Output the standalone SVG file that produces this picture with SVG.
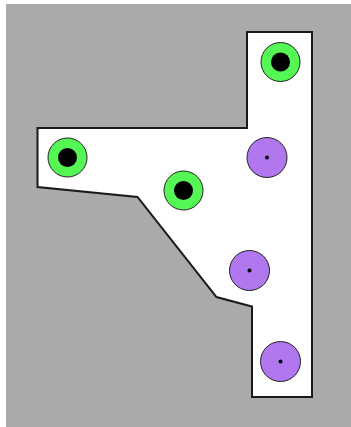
<svg xmlns="http://www.w3.org/2000/svg" width="351" height="427" viewBox="0 0 351 427">
<style>
.bg{fill:#aaaaaa}
.plate{fill:#ffffff;stroke:#1a1a1a;stroke-width:2}
.green{fill:#55f755;stroke:#222;stroke-width:1}
.hole{fill:#000}
.purple{fill:#b077ef;stroke:#222;stroke-width:1}
.dot{fill:#000}
</style>
<rect class="bg" x="6" y="4" width="345" height="423"/>
<polygon id="plate" class="plate" points="247,32 312,32 312,397 252,397 252,306.5 216.5,297 137.5,197 37.5,187 37.5,128 247,128"/>
<g id="g1"><circle class="green" cx="280.5" cy="62" r="19.5"/><circle class="hole" cx="280.5" cy="62" r="9.5"/></g>
<g id="g2"><circle class="green" cx="67.5" cy="157.5" r="19.5"/><circle class="hole" cx="67.5" cy="157.5" r="9.5"/></g>
<g id="g3"><circle class="green" cx="183.5" cy="190.5" r="19.5"/><circle class="hole" cx="183.5" cy="190.5" r="9.5"/></g>
<g id="p1"><circle class="purple" cx="267" cy="157.5" r="20"/><circle class="dot" cx="267" cy="157.5" r="2"/></g>
<g id="p2"><circle class="purple" cx="249.5" cy="270.5" r="20"/><circle class="dot" cx="249.5" cy="270.5" r="2"/></g>
<g id="p3"><circle class="purple" cx="280.5" cy="361.5" r="20"/><circle class="dot" cx="280.5" cy="361.5" r="2"/></g>
<g id="connectors"/>
</svg>
